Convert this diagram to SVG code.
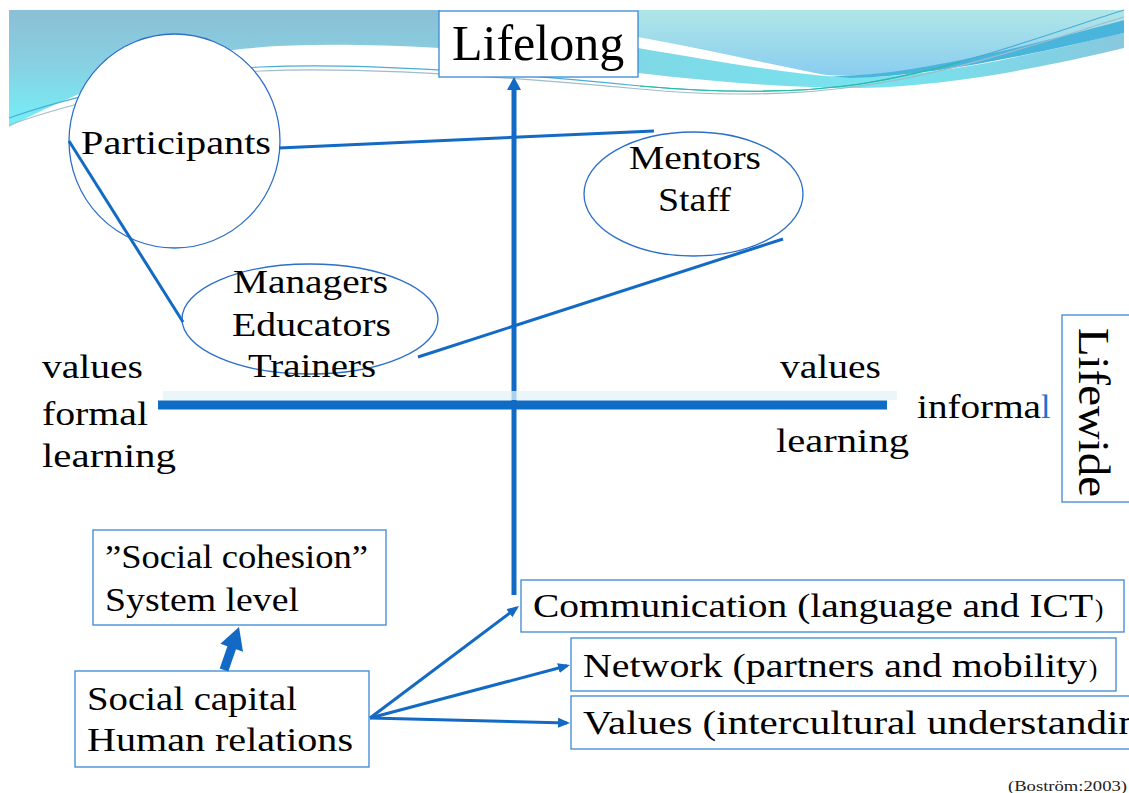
<svg xmlns="http://www.w3.org/2000/svg" width="1129" height="793" viewBox="0 0 1129 793">
  <style>
    .t { font-family: "Liberation Serif", "Times New Roman", serif; font-size: 34px; fill: #000; }
    .box { fill: #fff; stroke: #3b88d4; stroke-width: 1.3; }
    .oval { fill: #fff; stroke: #2b6fc8; stroke-width: 1.3; }
    .link { fill: none; stroke: #136ac4; stroke-width: 3; }
    .arrow { fill: none; stroke: #136ac4; stroke-width: 3; marker-end: url(#ah); }
  </style>
  <defs>
    <linearGradient id="gLeft" x1="0" y1="10" x2="0" y2="127" gradientUnits="userSpaceOnUse">
      <stop offset="0" stop-color="#8bbfd5"/>
      <stop offset="0.45" stop-color="#88d0e2"/>
      <stop offset="1" stop-color="#74f0f7"/>
    </linearGradient>
    <linearGradient id="gRight" x1="0" y1="10" x2="0" y2="78" gradientUnits="userSpaceOnUse">
      <stop offset="0" stop-color="#b0e6e7"/>
      <stop offset="1" stop-color="#88ccf0"/>
    </linearGradient>
    <linearGradient id="gBand" x1="638" y1="0" x2="1124" y2="0" gradientUnits="userSpaceOnUse">
      <stop offset="0" stop-color="#80d8e6"/>
      <stop offset="0.5" stop-color="#76e4ef"/>
      <stop offset="1" stop-color="#88c8de"/>
    </linearGradient>
    <marker id="ah" viewBox="0 0 12 10" refX="9" refY="5" markerWidth="12" markerHeight="10" markerUnits="userSpaceOnUse" orient="auto">
      <path d="M0,0 L12,5 L0,10 Z" fill="#136ac4"/>
    </marker>
  </defs>

  <rect width="1129" height="793" fill="#fff"/>

  <!-- header wave decoration -->
  <g id="banner">
    <path d="M9,10 H440 V48 C360,44 290,43 233,50 C160,58 70,95 9,127 Z" fill="url(#gLeft)"/>
    <path d="M638,10 H1124 V20 C1060,40 960,68 880,74 C850,76 832,76 820,74 C760,62 700,48 638,37 Z" fill="url(#gRight)"/>
    <path d="M638,48 C720,62 790,74 840,77 C930,80 1040,52 1124,33 L1124,48 C1040,68 950,86 860,88 C780,88 700,80 638,73 Z" fill="url(#gBand)"/>
    <path d="M830,76 C900,76 990,56 1124,20 L1124,33 C1040,52 940,76 850,78 Z" fill="#4ab5dc"/>
    <path d="M9,118 C60,100 170,72 260,67 C360,62 520,74 640,86 C720,93 800,93 860,84 C960,68 1060,30 1124,10" fill="none" stroke="#4aaed6" stroke-width="1.2"/>
    <path d="M9,125 C60,107 170,77 260,71 C360,66 520,78 640,89 C720,97 800,95 860,86 C960,72 1060,36 1124,17" fill="none" stroke="#9fbccb" stroke-width="1.2"/>
    <path d="M640,86 C720,93 800,93 860,84 C900,78 930,70 960,62" fill="none" stroke="#22c29c" stroke-width="1.2"/>
  </g>

  <g id="lifelong">
    <rect class="box" x="439" y="11" width="199" height="66"/>
    <text x="452" y="60" font-family="Liberation Serif, serif" font-size="50" fill="#000">Lifelong</text>
  </g>

  <g id="lifewide">
    <rect class="box" x="1062" y="315" width="80" height="187"/>
    <text transform="translate(1079,328) rotate(90)" font-family="Liberation Serif, serif" font-size="44" fill="#000" textLength="169" lengthAdjust="spacingAndGlyphs">Lifewide</text>
  </g>

  <g id="participants">
    <ellipse class="oval" cx="174.5" cy="141" rx="105.5" ry="107"/>
    <text class="t" x="81" y="154" textLength="190" lengthAdjust="spacingAndGlyphs">Participants</text>
  </g>

  <g id="mentors">
    <ellipse class="oval" cx="693.5" cy="194" rx="109.5" ry="62"/>
    <text class="t" x="629" y="169" textLength="132" lengthAdjust="spacingAndGlyphs">Mentors</text>
    <text class="t" x="658" y="211" textLength="73" lengthAdjust="spacingAndGlyphs">Staff</text>
  </g>

  <g id="managers">
    <ellipse class="oval" cx="310" cy="319" rx="128" ry="55"/>
    <text class="t" x="233" y="293" textLength="155" lengthAdjust="spacingAndGlyphs">Managers</text>
    <text class="t" x="232" y="336" textLength="159" lengthAdjust="spacingAndGlyphs">Educators</text>
    <text class="t" x="248" y="377" textLength="128" lengthAdjust="spacingAndGlyphs">Trainers</text>
  </g>

  <g id="formal">
    <text class="t" x="42" y="378" textLength="101" lengthAdjust="spacingAndGlyphs">values</text>
    <text class="t" x="42" y="425" textLength="106" lengthAdjust="spacingAndGlyphs">formal</text>
    <text class="t" x="42" y="467" textLength="134" lengthAdjust="spacingAndGlyphs">learning</text>
  </g>

  <g id="informal">
    <text class="t" x="780" y="378" textLength="101" lengthAdjust="spacingAndGlyphs">values</text>
    <text class="t" x="917" y="418" textLength="124" lengthAdjust="spacingAndGlyphs">informa</text>
    <text class="t" x="1041" y="418" style="fill:#1a73d0">l</text>
    <text class="t" x="776" y="452" textLength="133" lengthAdjust="spacingAndGlyphs">learning</text>
  </g>

  <g id="cohesion">
    <rect class="box" x="93" y="530" width="293" height="95"/>
    <text class="t" x="105" y="568" textLength="263" lengthAdjust="spacingAndGlyphs">”Social cohesion”</text>
    <text class="t" x="105" y="611" textLength="194" lengthAdjust="spacingAndGlyphs">System level</text>
  </g>

  <g id="capital">
    <rect class="box" x="75" y="671" width="294" height="96"/>
    <text class="t" x="87" y="710" textLength="210" lengthAdjust="spacingAndGlyphs">Social capital</text>
    <text class="t" x="87" y="751" textLength="266" lengthAdjust="spacingAndGlyphs">Human relations</text>
  </g>

  <g id="communication">
    <rect class="box" x="521" y="580" width="603" height="52"/>
    <text class="t" x="533" y="617" textLength="560" lengthAdjust="spacingAndGlyphs">Communication (language and ICT</text>
    <text class="t" x="1095" y="617" style="font-size:25px">)</text>
  </g>

  <g id="network">
    <rect class="box" x="571" y="638" width="545" height="53"/>
    <text class="t" x="583" y="677" textLength="504" lengthAdjust="spacingAndGlyphs">Network (partners and mobility</text>
    <text class="t" x="1089" y="677" style="font-size:25px">)</text>
  </g>

  <g id="values">
    <rect class="box" x="571" y="696" width="580" height="53"/>
    <text class="t" x="583" y="734" textLength="590" lengthAdjust="spacingAndGlyphs">Values (intercultural understanding)</text>
  </g>

  <!-- connectors, drawn over the node fills -->
  <g id="connectors">
    <line class="link" x1="279" y1="148" x2="654" y2="131"/>
    <line class="link" x1="69" y1="141" x2="183" y2="322"/>
    <line class="link" x1="783" y1="239" x2="418" y2="357"/>
    <line x1="514" y1="595" x2="514" y2="88" stroke="#136ac4" stroke-width="5"/>
    <polygon points="514,77 507,90 521,90" fill="#136ac4"/>
    <line x1="158" y1="405" x2="887" y2="405" stroke="#0f6cc4" stroke-width="9"/>
    <rect x="163" y="391" width="734" height="9" fill="#e4f3f6" opacity="0.75"/>
    <polygon points="219.7,668.5 227.4,646.3 220.4,643.8 239,627 243,651.8 236,649.3 228.3,671.5" fill="#136ac4"/>
    <line class="arrow" x1="370" y1="718" x2="516.6" y2="607.8"/>
    <line class="arrow" x1="370" y1="718" x2="567.1" y2="665.8"/>
    <line class="arrow" x1="370" y1="718" x2="567" y2="722.9"/>
  </g>

  <text x="1008" y="791" font-family="Liberation Serif, serif" font-size="14" fill="#222" textLength="119" lengthAdjust="spacingAndGlyphs">(Boström:2003)</text>
</svg>
